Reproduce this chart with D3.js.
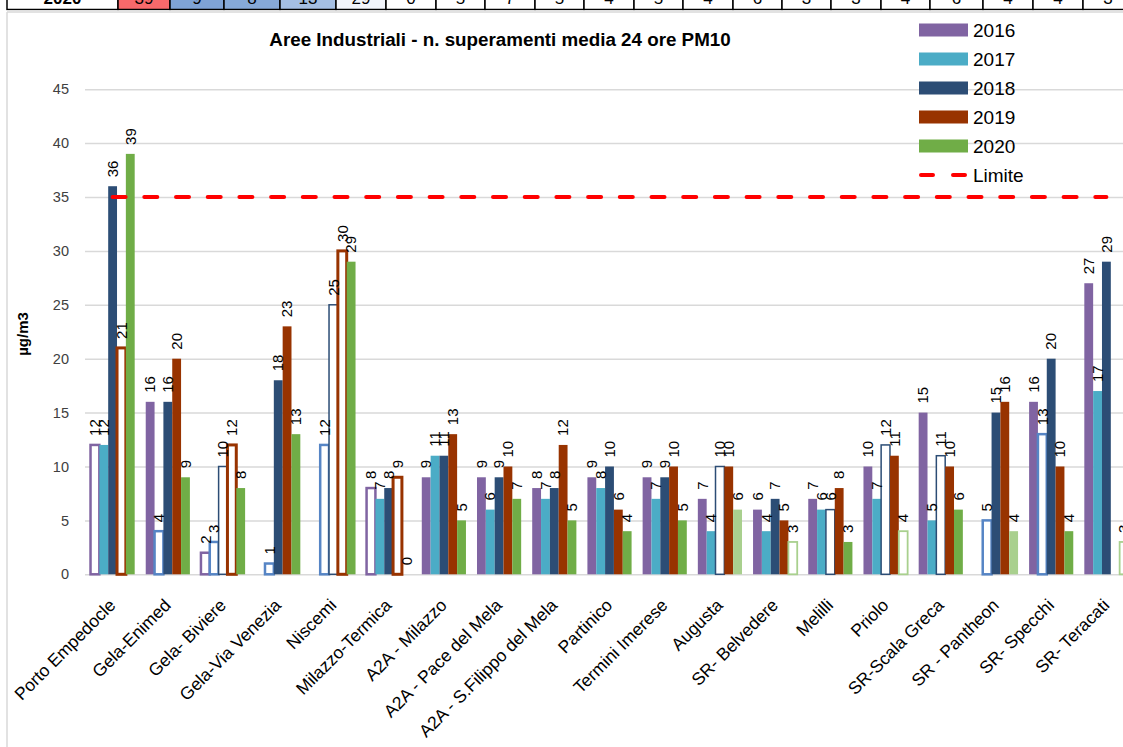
<!DOCTYPE html>
<html><head><meta charset="utf-8">
<script src="https://cdn.jsdelivr.net/npm/d3@7"></script>
<style>body{margin:0;background:#fff;} svg{display:block;font-family:"Liberation Sans",Arial,sans-serif;}</style>
</head><body><svg id="c" width="1123" height="747"></svg>
<script>
// ---------- data ----------
const categories = ["Porto Empedocle","Gela-Enimed","Gela- Biviere","Gela-Via Venezia","Niscemi","Milazzo-Termica","A2A - Milazzo","A2A - Pace del Mela","A2A - S.Filippo del Mela","Partinico","Termini Imerese","Augusta","SR- Belvedere","Melilli","Priolo","SR-Scala Greca","SR - Pantheon","SR- Specchi","SR- Teracati"];
const years = ["2016","2017","2018","2019","2020"];
const v2016 = [12,16,2,null,null,8,9,9,8,9,9,7,6,7,10,15,null,16,27];
const v2017 = [12,4,3,1,12,7,11,6,7,8,7,4,4,6,7,5,5,13,17];
const v2018 = [36,16,10,18,25,8,11,9,8,10,9,10,7,6,12,11,15,20,29];
const v2019 = [21,20,12,23,30,9,13,10,12,6,10,10,5,8,11,10,16,10,null];
const v2020 = [39,9,8,13,29,0,5,7,5,4,5,6,3,3,4,6,4,4,3];
// data coverage flag: F = complete, O = partial (outlined), L = partial (light)
const q2016 = ["O","F","O","F","F","O","F","F","F","F","F","F","F","F","F","F","F","F","F"];
const q2017 = ["F","O","O","O","O","F","F","F","F","F","F","F","F","F","F","F","O","O","F"];
const q2018 = ["F","F","O","F","O","F","F","F","F","F","F","O","F","O","O","O","F","F","F"];
const q2019 = ["O","F","O","F","O","O","F","F","F","F","F","F","F","F","F","F","F","F","F"];
const q2020 = ["F","F","F","F","F","F","F","F","F","F","F","L","O","F","O","F","L","F","O"];
const limitValue = 35;
const limitLabel = "Limite";
const yTicks = [0,5,10,15,20,25,30,35,40,45];
const title = "Aree Industriali - n. superamenti media 24 ore PM10";
const yTitle = "µg/m3";
const tableLabel = "2020";
const tableValues = ["39","9","8","13","29","0","5","7","5","4","5","4","6","3","3","4","6","4","4","3"];

// ---------- styles ----------
const fillC = {"2016":"#8064A2","2017":"#4BACC6","2018":"#2C4D75","2019":"#983300","2020":"#70AD47"};
const outC  = {"2016":"#8064A2","2017":"#5685C5","2018":"#2C4D75","2019":"#983300","2020":"#A9D08E"};
const outW  = {"2016":2.5,"2017":2.5,"2018":1.5,"2019":3,"2020":1.8};
const values = {"2016":v2016,"2017":v2017,"2018":v2018,"2019":v2019,"2020":v2020};
const quality = {"2016":q2016,"2017":q2017,"2018":q2018,"2019":q2019,"2020":q2020};

const svg = d3.select("#c");

// ---------- top table strip ----------
const tb = [7,118,170,224,280,336,386,436,485,535,584,634,683,733,782,831,881,930,983,1033,1083,1133];
const cellFill = ["#fff","#F8696B","#7FA3D6","#86A9D8","#A5BFE3","#F2F5FB"];
const tg = svg.append("g");
const cells = [tableLabel].concat(tableValues);
cells.forEach((t,i)=>{
  tg.append("rect").attr("x",tb[i]).attr("y",-5).attr("width",tb[i+1]-tb[i]).attr("height",14.5)
    .attr("fill", cellFill[i] || "#fff").attr("stroke","#000").attr("stroke-width",1.5);
  tg.append("text").attr("x",(tb[i]+tb[i+1])/2).attr("y",4).attr("text-anchor","middle")
    .attr("font-size",17).attr("font-weight", i===0?"bold":"normal").attr("fill","#000").text(t);
});
// chart frame
svg.append("rect").attr("x",0).attr("y",10.5).attr("width",1123).attr("height",740).attr("fill","#fff");
svg.append("line").attr("x1",7).attr("x2",1123).attr("y1",12).attr("y2",12).attr("stroke","#d9d9d9").attr("stroke-width",1.5);
svg.append("line").attr("x1",7).attr("x2",7).attr("y1",12).attr("y2",747).attr("stroke","#d9d9d9").attr("stroke-width",1.5);

// ---------- scales ----------
const x = d3.scaleBand().domain(categories).range([85,1134]).paddingInner(0.2).paddingOuter(0.1);
const xs = d3.scaleBand().domain(years).range([0,x.bandwidth()]);
const y = d3.scaleLinear().domain([0,45]).range([574.3,89.2]);

// gridlines
const grid = svg.append("g").attr("transform","translate(85,0)")
  .call(d3.axisLeft(y).tickValues(yTicks).tickSize(-(1134-85)).tickFormat(""));
grid.select(".domain").remove();
grid.selectAll("line").attr("stroke","#d9d9d9").attr("stroke-width",1.5);

// y axis labels
const ya = svg.append("g").attr("transform","translate(85,0)")
  .call(d3.axisLeft(y).tickValues(yTicks).tickSize(0).tickPadding(16));
ya.select(".domain").remove();
ya.selectAll("text").attr("font-size",14.5).attr("fill","#404040").attr("font-family","Liberation Sans, Arial, sans-serif");

// y title
svg.append("text").attr("transform","translate(28,334) rotate(-90)").attr("text-anchor","middle")
  .attr("font-size",15).attr("font-weight","bold").attr("fill","#000").text(yTitle);

// title
svg.append("text").attr("x",500).attr("y",46).attr("text-anchor","middle")
  .attr("font-size",18.8).attr("font-weight","bold").attr("fill","#000").text(title);

// x axis labels
const xa = svg.append("g").attr("transform",`translate(0,${y(0)})`)
  .call(d3.axisBottom(x).tickSize(0).tickPadding(0));
xa.select(".domain").remove();
xa.selectAll("text").attr("font-size",17.5).attr("fill","#000").attr("font-family","Liberation Sans, Arial, sans-serif")
  .attr("text-anchor","end").attr("dy",null).attr("y",null)
  .attr("transform","translate(4,32) rotate(-45)");

// bars
const bars = svg.append("g");
years.forEach(yr=>{
  categories.forEach((c,j)=>{
    const v = values[yr][j];
    if (v === null) return;
    const q = quality[yr][j];
    const r = bars.append("rect")
      .attr("x", x(c)+xs(yr)).attr("width", xs.bandwidth())
      .attr("y", y(v)).attr("height", y(0)-y(v));
    if (q === "O") r.attr("fill","#fff").attr("stroke",outC[yr]).attr("stroke-width",outW[yr]);
    else if (q === "L") r.attr("fill","#A9D08E");
    else r.attr("fill",fillC[yr]);
  });
});

// limit line
const xFirst = x(categories[0]) + x.bandwidth()/2;
const xLast = x(categories[categories.length-1]) + x.bandwidth()/2;
svg.append("line").attr("x1",xFirst).attr("x2",xLast).attr("y1",y(limitValue)).attr("y2",y(limitValue))
  .attr("stroke","#FF0000").attr("stroke-width",4).attr("stroke-dasharray","13 18.7").attr("stroke-linecap","round");

// data labels
const labels = svg.append("g");
years.forEach(yr=>{
  categories.forEach((c,j)=>{
    const v = values[yr][j];
    if (v === null) return;
    const cx = x(c)+xs(yr)+xs.bandwidth()/2;
    labels.append("text").attr("transform",`translate(${cx},${y(v)-9}) rotate(-90)`)
      .attr("dy","0.35em").attr("font-size",15).attr("fill","#000").text(v);
  });
});

// legend
const lg = svg.append("g");
years.forEach((yr,i)=>{
  const cy = 30 + 29*i;
  lg.append("rect").attr("x",919).attr("y",cy-6.5).attr("width",49).attr("height",13).attr("fill",fillC[yr]);
  lg.append("text").attr("x",973).attr("y",cy).attr("dy","0.35em").attr("font-size",19).attr("fill","#000").text(yr);
});
const ly = 30 + 29*5;
lg.append("line").attr("x1",921).attr("x2",965).attr("y1",ly).attr("y2",ly)
  .attr("stroke","#FF0000").attr("stroke-width",4).attr("stroke-dasharray","12 20").attr("stroke-linecap","round");
lg.append("text").attr("x",973).attr("y",ly).attr("dy","0.35em").attr("font-size",19).attr("fill","#000").text(limitLabel);
</script></body></html>
